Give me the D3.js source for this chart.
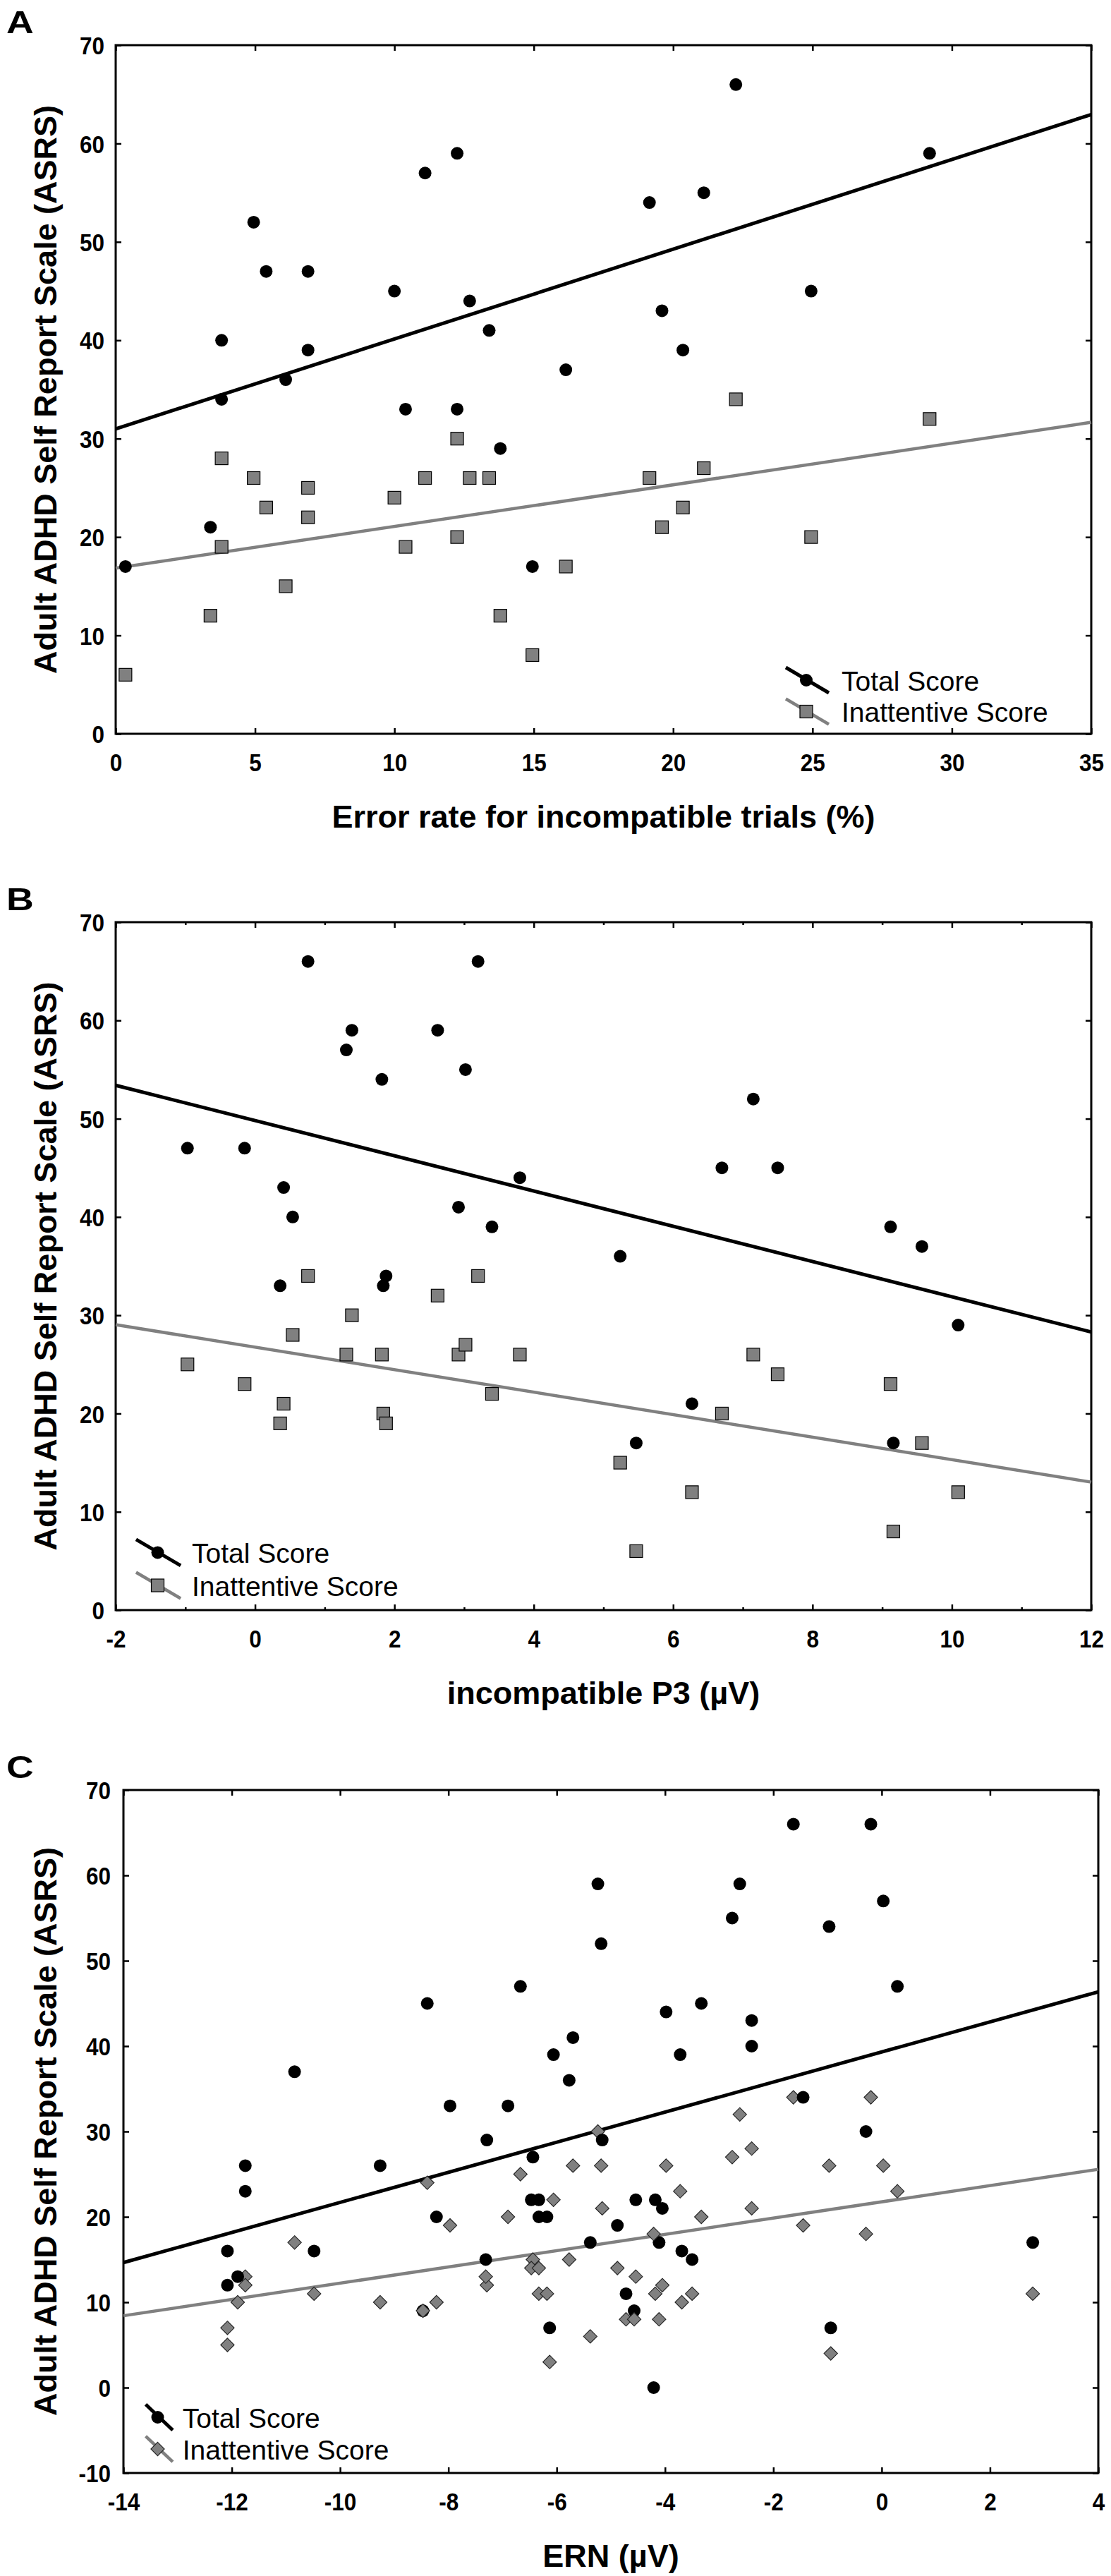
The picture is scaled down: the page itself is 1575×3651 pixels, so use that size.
<!DOCTYPE html>
<html><head><meta charset="utf-8">
<script src="https://cdn.jsdelivr.net/npm/d3@7"></script>
<style>
html,body{margin:0;padding:0;background:#fff;}
svg{display:block;}
</style>
</head><body>
<svg id="chart" width="1575" height="3651"></svg>
<script>
// ---------- Panel A : Error rate for incompatible trials (%) ----------
const errA   = [0.35,3.4,3.8,3.8,4.95,5.4,6.1,6.9,6.9,10,10.4,11.1,12.25,12.25,12.7,13.4,13.8,14.95,16.15,19.15,19.6,20.35,21.1,22.25,24.95,29.2];
const totalA = [17,21,34,40,52,47,36,47,39,45,33,57,59,33,44,41,29,17,37,54,43,39,55,66,45,59];
const inattA = [6,12,19,28,26,23,15,25,22,24,19,26,30,20,26,26,12,8,17,26,21,23,27,34,20,32];
const fitTotalA = [31.0, 62.95];   // fitted y at x-domain start / end
const fitInattA = [16.84, 31.66];
const xTicksA = [0,5,10,15,20,25,30,35];
const yTicksA = [0,10,20,30,40,50,60,70];

// ---------- Panel B : incompatible P3 (µV) ----------
const p3B    = [-0.97,-0.15,0.36,0.41,0.54,0.76,1.31,1.39,1.82,1.84,1.88,2.62,2.92,3.02,3.2,3.4,3.8,5.24,5.47,6.27,6.7,7.15,7.5,9.12,9.16,9.57,10.09];
const totalB = [47,47,33,43,40,66,57,59,54,33,34,59,41,55,66,39,44,36,17,21,45,52,45,39,17,37,29];
const inattB = [25,23,19,21,28,34,26,30,26,20,19,32,26,27,34,22,26,15,6,12,20,26,24,23,8,17,12];
const fitTotalB = [53.4, 28.3];
const fitInattB = [29.04, 13.02];
const xTicksB = [-2,0,2,4,6,8,10,12];
const xMinorB = [-1,1,3,5,7,9,11];
const yTicksB = [0,10,20,30,40,50,60,70];

// ---------- Panel C : ERN (µV) ----------
const ernC   = [-6.67,-8.39,-10.84,-6.06,-7.97,-6.9,-7.29,-11.75,-9.26,-6.44,-1.63,-0.2,-5.24,-2.62,0.03,-2.76,-0.97,-5.18,0.29,-3.33,-3.98,-2.4,-5.7,-3.72,-2.4,-5.77,-1.45,-0.29,-5.16,-11.75,-8.22,-6.47,-6.33,-6.33,-6.18,-12.08,-10.48,-7.31,-11.89,-12.08,-8.47,-6.13,-4.54,-4.18,-4.05,-4.88,-5.38,-4.11,-3.69,-3.5,2.79,-4.72,-4.57,-0.94,-4.21];
const totalC = [47,45,37,39,33,33,29,26,26,27,66,66,59,59,57,55,54,52,47,45,44,43,41,39,40,36,34,30,29,23,20,22,22,20,20,16,16,15,13,12,9,7,22,22,21,19,17,17,16,15,17,11,9,7,0];
const inattC = [25,24,17,22,19,20,12,13,10,15,34,34,30,32,26,27,26,26,23,20,26,28,26,23,21,15,19,18,21,12,10,14,14,11,11,7,11,13,10,5,9,3,13,11,12,14,6,8,10,11,11,8,8,4,18];
const fitTotalC = [14.65, 46.36];
const fitInattC = [8.42, 25.57];
const xTicksC = [-14,-12,-10,-8,-6,-4,-2,0,2,4];
const yTicksC = [-10,0,10,20,30,40,50,60,70];

const seriesNames = ["Total Score", "Inattentive Score"];
const yTitle = "Adult ADHD Self Report Scale (ASRS)";

// ---------- layout / style ----------
const FONT = "'Liberation Sans', Arial, Helvetica, sans-serif";
const GRAY = "#808080";
const TICK_SX = 0.9;   // tick labels are slightly condensed
const panels = [
  {letter:"A", left:164, right:1547, top:64, bottom:1040, xDomain:[0,35], yDomain:[0,70],
   xs:errA, total:totalA, inatt:inattA, fitT:fitTotalA, fitI:fitInattA,
   xTicks:xTicksA, xMinor:[], yTicks:yTicksA, yPad:16,
   xTitle:"Error rate for incompatible trials (%)", marker:"square",
   legend:{mx:979, yT:-76, yI:-31.5, l:-29, r:32, h:18, tx:1029}},
  {letter:"B", left:164, right:1547, top:1307, bottom:2282, xDomain:[-2,12], yDomain:[0,70],
   xs:p3B, total:totalB, inatt:inattB, fitT:fitTotalB, fitI:fitInattB,
   xTicks:xTicksB, xMinor:xMinorB, yTicks:yTicksB, yPad:16,
   xTitle:"incompatible P3 (µV)", marker:"square",
   legend:{mx:59.5, yT:-81.6, yI:-35, l:-30.6, r:32.6, h:18.5, tx:108}},
  {letter:"C", left:175, right:1557, top:2537, bottom:3505, xDomain:[-14,4], yDomain:[-10,70],
   xs:ernC, total:totalC, inatt:inattC, fitT:fitTotalC, fitI:fitInattC,
   xTicks:xTicksC, xMinor:[], yTicks:yTicksC, yPad:18,
   xTitle:"ERN (µV)", marker:"diamond",
   legend:{mx:48.5, yT:-79, yI:-34, l:-17, r:21.4, h:18.2, tx:83.7}}
];

const svg = d3.select("#chart");
svg.append("rect").attr("width",1575).attr("height",3651).attr("fill","#fff");

function styleAxis(sel, fontSize){
  sel.select(".domain").remove();
  sel.selectAll(".tick line").attr("stroke","#000").attr("stroke-width",2.5);
  sel.selectAll("text").attr("font-size",fontSize).attr("font-family",FONT)
     .attr("font-weight","bold").attr("fill","#000");
}

function drawMarker(g, type, cx, cy, fill){
  if(type==="circle"){
    g.append("circle").attr("cx",cx).attr("cy",cy).attr("r",9).attr("fill","#000");
  } else if(type==="square"){
    g.append("rect").attr("x",cx-9).attr("y",cy-9).attr("width",18).attr("height",18)
      .attr("fill",fill).attr("stroke","#000").attr("stroke-width",1.2);
  } else {
    const s=9.6;
    g.append("path").attr("d",`M${cx},${cy-s}L${cx+s},${cy}L${cx},${cy+s}L${cx-s},${cy}Z`)
      .attr("fill",fill).attr("stroke","#222").attr("stroke-width",1.1);
  }
}

panels.forEach(p=>{
  const x = d3.scaleLinear().domain(p.xDomain).range([p.left,p.right]);
  const y = d3.scaleLinear().domain(p.yDomain).range([p.bottom,p.top]);
  const g = svg.append("g");
  const fmt = d=>String(d);
  const T = 8;

  // axes with inward ticks
  g.append("g").attr("transform",`translate(0,${p.bottom})`)
    .call(d3.axisBottom(x).tickValues(p.xTicks).tickSize(-T).tickSizeOuter(0).tickPadding(28).tickFormat(fmt))
    .call(s=>styleAxis(s,35))
    .call(s=>s.selectAll("text").attr("transform",`scale(${TICK_SX},1)`));
  g.append("g").attr("transform",`translate(0,${p.top})`)
    .call(d3.axisTop(x).tickValues(p.xTicks).tickSize(-T).tickSizeOuter(0).tickFormat(""))
    .call(s=>styleAxis(s,35));
  g.append("g").attr("transform",`translate(${p.left},0)`)
    .call(d3.axisLeft(y).tickValues(p.yTicks).tickSize(-T).tickSizeOuter(0).tickPadding(p.yPad).tickFormat(fmt))
    .call(s=>styleAxis(s,35))
    .call(s=>s.selectAll("text").attr("dy","0.36em").attr("x",-p.yPad/TICK_SX)
              .attr("transform",`scale(${TICK_SX},1)`));
  g.append("g").attr("transform",`translate(${p.right},0)`)
    .call(d3.axisRight(y).tickValues(p.yTicks).tickSize(-T).tickSizeOuter(0).tickFormat(""))
    .call(s=>styleAxis(s,35));
  if(p.xMinor.length){
    g.append("g").attr("transform",`translate(0,${p.bottom})`)
      .call(d3.axisBottom(x).tickValues(p.xMinor).tickSize(-4).tickSizeOuter(0).tickFormat(""))
      .call(s=>styleAxis(s,35));
    g.append("g").attr("transform",`translate(0,${p.top})`)
      .call(d3.axisTop(x).tickValues(p.xMinor).tickSize(-4).tickSizeOuter(0).tickFormat(""))
      .call(s=>styleAxis(s,35));
  }

  // frame
  g.append("rect").attr("x",p.left).attr("y",p.top)
    .attr("width",p.right-p.left).attr("height",p.bottom-p.top)
    .attr("fill","none").attr("stroke","#000").attr("stroke-width",3);

  // regression lines
  g.append("line").attr("x1",x(p.xDomain[0])).attr("x2",x(p.xDomain[1]))
    .attr("y1",y(p.fitT[0])).attr("y2",y(p.fitT[1]))
    .attr("stroke","#000").attr("stroke-width",5);
  g.append("line").attr("x1",x(p.xDomain[0])).attr("x2",x(p.xDomain[1]))
    .attr("y1",y(p.fitI[0])).attr("y2",y(p.fitI[1]))
    .attr("stroke",GRAY).attr("stroke-width",4.5);

  // points (per subject: total then inattentive)
  const mg = g.append("g");
  p.xs.forEach((xv,i)=>{
    drawMarker(mg,"circle",x(xv),y(p.total[i]));
    drawMarker(mg,p.marker,x(xv),y(p.inatt[i]),GRAY);
  });

  // legend
  const L = p.legend, lx = p.left+L.mx;
  [[L.yT,"#000",5,"circle",seriesNames[0]],[L.yI,GRAY,4.5,p.marker,seriesNames[1]]].forEach(([dy,col,w,mk,name])=>{
    const cy = p.bottom+dy;
    g.append("line").attr("x1",lx+L.l).attr("y1",cy-L.h).attr("x2",lx+L.r).attr("y2",cy+L.h)
      .attr("stroke",col).attr("stroke-width",w);
    drawMarker(g,mk,lx,cy,GRAY);
    g.append("text").attr("x",p.left+L.tx).attr("y",cy+14.5)
      .attr("font-family",FONT).attr("font-size",39).attr("fill","#000").text(name);
  });

  // titles
  g.append("text").attr("transform",`translate(80,${(p.top+p.bottom)/2}) rotate(-90)`)
    .attr("text-anchor","middle").attr("font-family",FONT).attr("font-size",45)
    .attr("font-weight","bold").text(yTitle);
  g.append("text").attr("x",(p.left+p.right)/2).attr("y",p.bottom+133)
    .attr("text-anchor","middle").attr("font-family",FONT).attr("font-size",45)
    .attr("font-weight","bold").text(p.xTitle);
  g.append("text").attr("transform",`translate(9,${p.top-17}) scale(1.22,1)`)
    .attr("font-family",FONT).attr("font-size",44).attr("font-weight","bold").text(p.letter);
});
</script>
</body></html>
